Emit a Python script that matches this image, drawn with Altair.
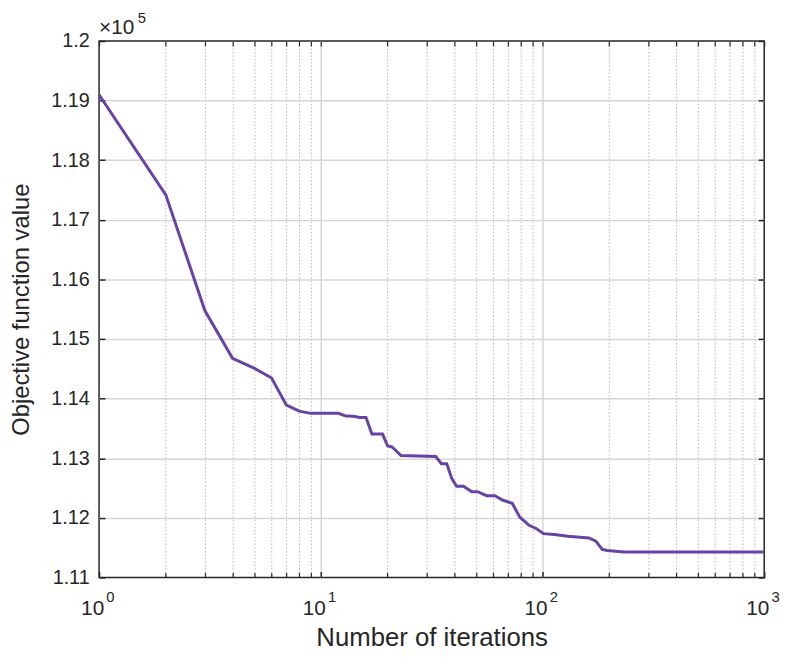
import altair as alt
import pandas as pd

# iteration number and objective function value
iterations = [1, 2, 3, 4, 5, 6, 7, 8, 9, 12, 13, 14, 15, 16, 17, 19, 20, 21, 23, 33,
              35, 37, 39, 41, 44, 48, 51, 56, 61, 66, 73, 79, 87, 94, 101, 113, 130,
              162, 174, 186, 196, 233, 1000]
objective = [119098, 117418, 115478, 114677, 114511, 114345, 113890, 113791, 113753,
             113753, 113708, 113703, 113682, 113682, 113405, 113405, 113210, 113189,
             113045, 113028, 112907, 112907, 112658, 112531, 112531, 112438, 112438,
             112371, 112371, 112299, 112244, 112012, 111874, 111818, 111735, 111722,
             111692, 111663, 111609, 111469, 111453, 111426, 111426]

x_major = [1, 10, 100, 1000]
x_major_inner = [10, 100]
x_minor = [2, 3, 4, 5, 6, 7, 8, 9, 20, 30, 40, 50, 60, 70, 80, 90,
           200, 300, 400, 500, 600, 700, 800, 900]
y_ticks = [111000, 112000, 113000, 114000, 115000, 116000, 117000, 118000, 119000, 120000]
y_inner = y_ticks[1:-1]
exponent_base = ["\u00d710"]
exponent_power = ["5"]

df = pd.DataFrame({"iter": iterations, "value": objective})

FONT = "Liberation Sans"
TXT = "#262626"
LINE = "#6643a4"
GRID = "#d6d6d6"

xs = alt.Scale(type="log", domain=[1, 1000], nice=False)
ys = alt.Scale(domain=[111000, 120000], nice=False, zero=False)

x_exp_expr = "format(log(datum.value) / log(10), '.0f')"
y_label_expr = "format(datum.value / 100000, '.2~f')"

base = alt.Chart(df)

main = base.mark_line(color=LINE, strokeWidth=3).encode(
    x=alt.X("iter:Q", scale=xs, axis=alt.Axis(
        orient="bottom", values=x_major, labelExpr="'10'", labelOffset=-7,
        title="Number of iterations", grid=False,
        domain=False, ticks=True, tickSize=6, offset=-6, tickColor=TXT, tickWidth=1.5,
        labelPadding=20, labelFontSize=21, labelColor=TXT, labelFont=FONT,
        titleFontSize=26, titleColor=TXT, titleFont=FONT, titleFontWeight="normal",
        titlePadding=7, labelFlush=False)),
    y=alt.Y("value:Q", scale=ys, axis=alt.Axis(
        orient="left", values=y_ticks, labelExpr=y_label_expr,
        title="Objective function value", grid=False,
        domain=False, ticks=True, tickSize=6, offset=-6, tickColor=TXT, tickWidth=1.5,
        labelPadding=10, labelFontSize=20, labelColor=TXT, labelFont=FONT,
        titleFontSize=24, titleColor=TXT, titleFont=FONT, titleFontWeight="normal",
        titlePadding=17, labelFlush=False)),
)

minor = base.mark_line(strokeOpacity=0).encode(
    x=alt.X("iter:Q", scale=xs, axis=alt.Axis(
        orient="bottom", values=x_minor, labels=False, title=None,
        grid=True, gridColor="#b8b8b8", gridDash=[1.5, 2], gridWidth=1,
        domain=False, ticks=True, tickSize=5, offset=-5, tickColor=TXT, tickWidth=1.2)),
    y=alt.Y("value:Q", scale=ys, axis=alt.Axis(
        orient="right", values=y_ticks, labels=False, title=None, grid=False,
        domain=False, ticks=True, tickSize=6, offset=-6, tickColor=TXT, tickWidth=1.5)),
)

top = base.mark_line(strokeOpacity=0).encode(
    x=alt.X("iter:Q", scale=xs, axis=alt.Axis(
        orient="top", values=x_major + x_minor, labels=False, title=None, grid=False,
        domain=False, ticks=True, tickSize=5, offset=-5, tickColor=TXT, tickWidth=1.2)),
    y=alt.Y("value:Q", scale=ys, axis=alt.Axis(
        orient="left", values=y_inner, labels=False, title=None, ticks=False,
        domain=False, grid=True, gridColor=GRID, gridWidth=1.5)),
)

xgrid = base.mark_line(strokeOpacity=0).encode(
    x=alt.X("iter:Q", scale=xs, axis=alt.Axis(
        orient="bottom", values=x_major_inner, labels=False, title=None, ticks=False,
        domain=False, grid=True, gridColor=GRID, gridWidth=1.5)),
    y=alt.Y("value:Q", scale=ys, axis=None),
)

xexp = base.mark_line(strokeOpacity=0).encode(
    x=alt.X("iter:Q", scale=xs, axis=alt.Axis(
        orient="bottom", values=x_major, labelExpr=x_exp_expr, title=None, ticks=False,
        domain=False, grid=False, labelPadding=12, labelOffset=11,
        labelFontSize=15, labelColor=TXT, labelFont=FONT, labelFlush=False)),
    y=alt.Y("value:Q", scale=ys, axis=None),
)

exp_base = alt.Chart(pd.DataFrame({"t": exponent_base})).mark_text(
    align="left", baseline="alphabetic", fontSize=21, font=FONT, color=TXT
).encode(text="t:N", x=alt.value(0), y=alt.value(-7))

exp_pow = alt.Chart(pd.DataFrame({"t": exponent_power})).mark_text(
    align="left", baseline="alphabetic", fontSize=15, font=FONT, color=TXT
).encode(text="t:N", x=alt.value(39), y=alt.value(-18))

chart = alt.layer(main, minor, top, xgrid, xexp, exp_base, exp_pow).resolve_axis(
    x="independent", y="independent"
).properties(
    width=672, height=542,
    autosize=alt.AutoSizeParams(type="none"),
    padding={"left": 92, "top": 30, "right": 20, "bottom": 72},
    background="white",
).configure_view(stroke=TXT, strokeWidth=1.5)

chart.save("out.html", embed_options={"renderer": "svg", "actions": False})
